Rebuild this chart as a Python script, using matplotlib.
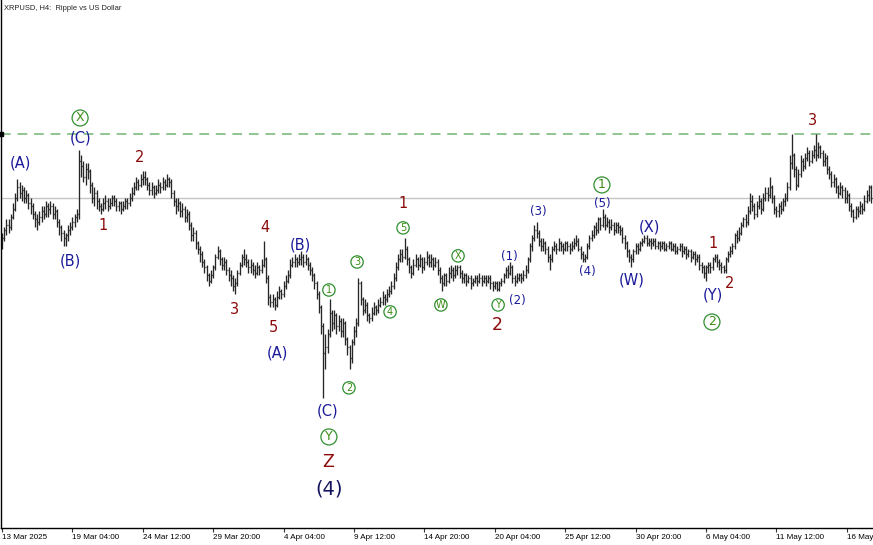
import numpy as np
import pandas as pd
import matplotlib
matplotlib.use("Agg")
import matplotlib.pyplot as plt
from matplotlib.collections import LineCollection

# XRPUSD H4 bars, prices in US cents
first_open = 219
close_c = [
    221, 224, 226, 225, 229, 232, 236, 240, 238, 239,
    236, 237, 234, 233, 230, 228, 227, 229, 231, 230,
    233, 232, 233, 230, 231, 227, 225, 223, 221, 222,
    224, 225, 227, 229, 230, 250, 248, 244, 247, 246,
    241, 236, 238, 235, 233, 232, 234, 235, 233, 234,
    236, 235, 233, 234, 232, 233, 235, 234, 236, 238,
    240, 242, 241, 243, 244, 243, 241, 239, 240, 238,
    239, 241, 240, 242, 241, 243, 242, 238, 235, 233,
    234, 231, 232, 229, 230, 226, 222, 223, 219, 217,
    215, 212, 210, 207, 205, 207, 210, 214, 216, 213,
    211, 212, 209, 207, 206, 203, 204, 208, 211, 214,
    213, 212, 210, 211, 209, 208, 210, 209, 211, 213,
    206, 199, 197, 198, 196, 199, 201, 200, 203, 205,
    207, 211, 212, 213, 212, 213, 214, 212, 213, 211,
    209, 207, 204, 200, 195, 188, 178, 180, 185, 193,
    189, 192, 188, 190, 186, 189, 183, 180, 176, 182,
    186, 189, 204, 198, 194, 196, 192, 191, 193, 195,
    194, 196, 197, 199, 198, 200, 201, 203, 206, 210,
    213, 215, 214, 217, 213, 210, 208, 211, 213, 211,
    213, 210, 212, 214, 212, 213, 211, 212, 209, 206,
    204, 207, 205, 208, 209, 207, 209, 210, 208, 206,
    207, 205, 206, 204, 205, 206, 205, 206, 205, 206,
    205, 206, 204, 203, 204, 202, 204, 205, 207, 209,
    208, 210, 206, 205, 206, 207, 206, 207, 209, 213,
    218, 221, 224, 223, 220, 218, 219, 217, 214, 213,
    217, 218, 217, 219, 218, 217, 219, 218, 217, 218,
    219, 220, 217, 215, 213, 214, 218, 221, 222, 225,
    224, 228, 226, 229, 226, 227, 225, 226, 224, 226,
    225, 224, 221, 219, 216, 214, 213, 216, 218, 217,
    219, 220, 221, 219, 220, 219, 220, 218, 219, 218,
    219, 217, 218, 219, 217, 218, 216, 217, 218, 216,
    217, 215, 216, 214, 215, 213, 214, 211, 210, 208,
    210, 211, 210, 213, 214, 212, 211, 210, 209, 213,
    215, 216, 218, 222, 221, 223, 226, 228, 227, 231,
    235, 233, 230, 233, 235, 232, 236, 238, 237, 240,
    236, 232, 231, 233, 232, 235, 236, 240, 249, 252,
    247, 241, 245, 250, 248, 251, 253, 250, 252, 254,
    252, 255, 253, 250, 251, 247, 245, 242, 243, 240,
    238, 240, 239, 236, 237, 233, 231, 229, 232, 231,
    233, 232, 235, 237, 240, 236,
]
high_c = [
    223, 225, 228, 228, 230, 234, 238, 243, 242, 241,
    240, 239, 238, 236, 234, 231, 230, 231, 233, 233,
    235, 234, 235, 234, 233, 232, 228, 226, 224, 223,
    226, 227, 229, 230, 232, 254, 252, 250, 249, 249,
    247, 242, 240, 239, 236, 234, 236, 237, 236, 236,
    237, 237, 236, 235, 235, 235, 236, 236, 238, 240,
    242, 244, 243, 245, 246, 246, 244, 242, 242, 241,
    241, 243, 242, 244, 243, 245, 244, 243, 239, 236,
    236, 235, 234, 233, 232, 231, 227, 225, 224, 220,
    218, 216, 213, 211, 208, 209, 211, 215, 218, 217,
    214, 214, 213, 210, 209, 207, 206, 209, 212, 215,
    217, 215, 213, 213, 212, 211, 212, 211, 213, 220,
    214, 207, 200, 200, 199, 201, 203, 202, 205, 207,
    209, 213, 214, 215, 214, 215, 216, 215, 215, 214,
    212, 210, 208, 205, 201, 196, 189, 185, 187, 198,
    194, 194, 193, 192, 191, 191, 190, 184, 181, 183,
    188, 191, 206, 205, 199, 198, 197, 193, 195, 197,
    196, 198, 199, 201, 200, 202, 203, 205, 208, 212,
    215, 217, 217, 221, 218, 214, 211, 213, 215, 214,
    215, 214, 214, 216, 215, 215, 214, 214, 213, 210,
    207, 208, 208, 210, 211, 210, 211, 211, 211, 209,
    208, 208, 207, 207, 206, 207, 207, 208, 207, 207,
    207, 207, 207, 205, 205, 205, 205, 206, 208, 210,
    211, 212, 211, 207, 208, 208, 208, 209, 211, 214,
    219, 222, 226, 227, 224, 221, 221, 220, 218, 215,
    218, 220, 219, 221, 220, 219, 220, 220, 219, 220,
    221, 222, 221, 218, 216, 215, 219, 222, 224, 226,
    227, 229, 229, 232, 230, 229, 228, 228, 227, 227,
    227, 226, 225, 222, 220, 217, 215, 217, 219, 219,
    220, 221, 222, 222, 221, 221, 221, 221, 220, 220,
    220, 220, 219, 220, 220, 219, 219, 218, 219, 219,
    218, 218, 217, 217, 216, 216, 215, 215, 212, 211,
    211, 212, 212, 214, 215, 215, 213, 212, 211, 214,
    216, 218, 219, 223, 224, 225, 227, 229, 230, 233,
    238, 237, 234, 235, 237, 236, 238, 240, 240, 244,
    241, 237, 233, 234, 235, 236, 238, 242, 252, 260,
    253, 248, 247, 252, 251, 253, 255, 254, 254, 256,
    260, 257, 256, 254, 253, 252, 248, 246, 245, 244,
    241, 242, 241, 240, 239, 238, 234, 232, 233, 233,
    235, 234, 237, 239, 241, 241,
]
low_c = [
    217, 220, 222, 223, 224, 228, 231, 235, 236, 235,
    234, 234, 232, 230, 228, 225, 224, 226, 227, 228,
    229, 229, 230, 228, 228, 225, 222, 220, 218, 218,
    220, 222, 224, 225, 227, 228, 244, 242, 241, 243,
    238, 234, 233, 232, 231, 230, 231, 232, 231, 232,
    233, 233, 231, 231, 230, 231, 232, 232, 233, 235,
    237, 239, 239, 240, 241, 241, 239, 237, 237, 236,
    237, 238, 238, 239, 239, 240, 240, 236, 233, 230,
    231, 229, 229, 227, 227, 224, 220, 220, 217, 215,
    212, 210, 208, 205, 203, 204, 206, 209, 213, 211,
    209, 209, 207, 205, 203, 201, 200, 203, 207, 210,
    211, 210, 208, 208, 207, 206, 207, 207, 208, 210,
    204, 196, 195, 195, 194, 195, 198, 198, 199, 202,
    204, 206, 210, 210, 210, 211, 211, 210, 211, 209,
    207, 205, 202, 198, 193, 185, 161, 172, 178, 184,
    186, 187, 185, 186, 184, 184, 181, 177, 172, 174,
    181, 184, 188, 196, 192, 193, 190, 189, 190, 192,
    192, 193, 195, 196, 196, 197, 199, 200, 202, 205,
    209, 212, 212, 213, 211, 208, 206, 207, 210, 209,
    210, 208, 209, 211, 210, 210, 209, 210, 207, 204,
    201, 203, 203, 204, 206, 205, 206, 207, 206, 204,
    204, 203, 204, 202, 203, 204, 203, 204, 203, 204,
    203, 204, 202, 201, 202, 201, 201, 203, 204, 206,
    206, 207, 204, 203, 204, 205, 204, 205, 206, 208,
    212, 216, 220, 221, 218, 216, 216, 215, 212, 209,
    212, 216, 215, 216, 216, 215, 216, 216, 215, 216,
    217, 218, 216, 213, 212, 212, 213, 217, 220, 221,
    222, 223, 224, 225, 224, 225, 223, 224, 222, 223,
    223, 222, 219, 217, 214, 212, 210, 212, 215, 215,
    216, 218, 219, 218, 218, 217, 218, 217, 217, 216,
    217, 216, 216, 217, 216, 216, 215, 215, 216, 214,
    215, 213, 214, 212, 213, 211, 212, 209, 208, 206,
    205, 208, 208, 209, 212, 210, 209, 208, 208, 208,
    212, 214, 215, 217, 219, 220, 222, 225, 225, 226,
    230, 231, 228, 229, 232, 230, 231, 235, 235, 236,
    234, 230, 229, 229, 230, 231, 233, 235, 239, 247,
    244, 239, 240, 244, 246, 247, 250, 248, 249, 251,
    250, 251, 251, 248, 248, 245, 243, 240, 240, 238,
    236, 237, 236, 234, 234, 231, 229, 227, 228, 229,
    230, 230, 231, 234, 235, 234,
]
resistance = 2.60
bar_start = "2025-03-13 20:00"

# Elliott wave marks: text, bar index, price, style
wave_labels = [
    ("X", 35.5, 2.660, "ring"), ("(C)", 35.5, 2.585, "navy"),
    ("(A)", 8.6, 2.491, "navy"), ("(B)", 30.9, 2.124, "navy"),
    ("1", 45.9, 2.255, "red"), ("2", 62.7, 2.510, "red"),
    ("3", 105.5, 1.940, "red"), ("4", 119.5, 2.251, "red"),
    ("5", 123.2, 1.876, "red"), ("(A)", 125.0, 1.779, "navy"),
    ("(B)", 135.5, 2.184, "navy"), ("1", 148.6, 2.015, "ring_s"),
    ("(C)", 148.2, 1.561, "navy"), ("Y", 148.6, 1.464, "ring"),
    ("Z", 148.2, 1.370, "red_big"), ("(4)", 148.6, 1.269, "navy_big"),
    ("2", 157.7, 1.648, "ring_s"), ("3", 161.4, 2.120, "ring_s"),
    ("4", 176.4, 1.933, "ring_s"), ("1", 182.3, 2.341, "red"),
    ("5", 182.3, 2.248, "ring_s"), ("W", 199.5, 1.959, "ring_s"),
    ("X", 207.3, 2.143, "ring_s"), ("Y", 225.5, 1.959, "ring_s"),
    ("2", 225.0, 1.884, "red_big"), ("(1)", 230.5, 2.139, "navy_s"),
    ("(2)", 234.1, 1.974, "navy_s"), ("(3)", 243.6, 2.308, "navy_s"),
    ("(4)", 265.9, 2.083, "navy_s"), ("1", 272.7, 2.409, "ring"),
    ("(5)", 272.7, 2.341, "navy_s"), ("(W)", 286.4, 2.053, "navy"),
    ("(X)", 294.5, 2.251, "navy"), ("1", 323.2, 2.191, "red"),
    ("2", 330.9, 2.038, "red"), ("(Y)", 323.2, 1.996, "navy"),
    ("2", 322.7, 1.895, "ring"), ("3", 368.6, 2.649, "red"),
]

closes = np.array(close_c) / 100
highs = np.array(high_c) / 100
lows = np.array(low_c) / 100
opens = np.concatenate([[first_open / 100], closes[:-1]])
n = len(closes)
idx = np.arange(n)
dates = pd.date_range(bar_start, periods=n, freq="4h")

fig = plt.figure(figsize=(8.73, 5.45), dpi=100)
ax = fig.add_axes([1 / 873, 17 / 545, 872 / 873, 528 / 545])

segs = []
for i in idx:
    segs.append([(i, lows[i]), (i, highs[i])])
    segs.append([(i - 0.45, opens[i]), (i, opens[i])])
    segs.append([(i, closes[i]), (i + 0.45, closes[i])])
ax.add_collection(LineCollection(segs, colors="#262626", linewidths=0.95))

ax.axhline(closes[-1], color="#c4c4c4", lw=1, zorder=0)
ax.axhline(resistance, color="#8fc58f", lw=1.4, ls=(0, (5, 3.5)), zorder=0)
ax.plot([-0.3], [resistance], marker="s", ms=2.2, color="black", clip_on=False)

styles = {
    "navy": dict(color="#1a1a9a", fontsize=10.5),
    "navy_s": dict(color="#1a1a9a", fontsize=8.5),
    "navy_big": dict(color="#14145e", fontsize=14),
    "red": dict(color="#8b0a0a", fontsize=10.5),
    "red_big": dict(color="#8b0a0a", fontsize=12.5),
}
for txt, b, p, kind in wave_labels:
    if kind.startswith("ring"):
        small = kind == "ring_s"
        ax.text(b, p, txt, ha="center", va="center", color="#3c8c14",
                fontsize=7 if small else 9,
                bbox=dict(boxstyle="circle,pad=0.12", fc="none",
                          ec="#2f8f2f", lw=0.9))
    else:
        ax.text(b, p, txt, ha="center", va="center", **styles[kind])

fig.text(4 / 873, 1 - 8 / 545, "XRPUSD, H4:  Ripple vs US Dollar", fontsize=5.4,
         family="Liberation Sans", color="#222222", va="center", ha="left")

ax.set_xlim(-0.4545, -0.4545 + 872 / 2.2)
ax.set_ylim(1.1225, 3.1025)

tick_pos = idx[::32]
tick_lab = ([dates[0].strftime("%-d %b %Y")]
            + [d.strftime("%-d %b %H:%M") for d in dates[tick_pos[1:-1]]]
            + [dates[tick_pos[-1]].strftime("%-d %b")])
ax.set_xticks(tick_pos)
ax.set_xticklabels(tick_lab, fontsize=5.8, family="Liberation Sans", ha="left")
ax.tick_params(axis="x", length=3, width=0.8, pad=1.5, color="#333333")
ax.set_yticks([])
for s in ["top", "right"]:
    ax.spines[s].set_visible(False)
ax.spines["left"].set_linewidth(1)
ax.spines["bottom"].set_linewidth(1)

fig.savefig("out.png", dpi=100)
